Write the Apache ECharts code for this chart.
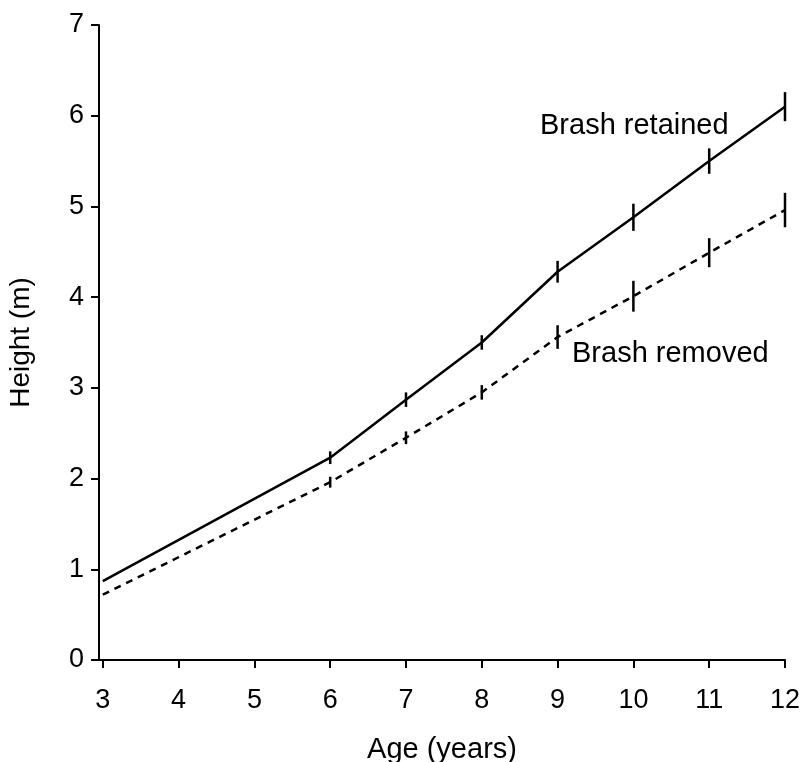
<!DOCTYPE html>
<html>
<head>
<meta charset="utf-8">
<script src="https://cdn.jsdelivr.net/npm/echarts@6/dist/echarts.min.js"></script>
<style>html,body{margin:0;padding:0;background:#fff;}#c{width:802px;height:762px;}</style>
</head>
<body>
<div id="c"></div>
<script>
const ages = [3, 6, 7, 8, 9, 10, 11, 12];
const retained = [0.87, 2.23, 2.87, 3.50, 4.28, 4.88, 5.50, 6.10];
const retainedErr = [0, 0.07, 0.08, 0.08, 0.12, 0.15, 0.14, 0.16];
const removed = [0.72, 1.96, 2.45, 2.95, 3.56, 4.01, 4.49, 4.96];
const removedErr = [0, 0.06, 0.07, 0.08, 0.13, 0.17, 0.16, 0.19];
const xTicks = [3, 4, 5, 6, 7, 8, 9, 10, 11, 12];
const yTicks = [0, 1, 2, 3, 4, 5, 6, 7];

const FONT = '"Liberation Sans", Arial, sans-serif';

function errData(vals, errs) {
  const out = [];
  for (let i = 0; i < ages.length; i++) {
    if (errs[i] > 0) out.push([ages[i], vals[i] - errs[i], vals[i] + errs[i]]);
  }
  return out;
}

function errSeries(vals, errs) {
  return {
    type: 'custom',
    data: errData(vals, errs),
    encode: { x: 0, y: [1, 2] },
    z: 5,
    renderItem: function (params, api) {
      const lo = api.coord([api.value(0), api.value(1)]);
      const hi = api.coord([api.value(0), api.value(2)]);
      return {
        type: 'line',
        shape: { x1: lo[0], y1: lo[1], x2: hi[0], y2: hi[1] },
        style: { stroke: '#000', lineWidth: 2.5 }
      };
    }
  };
}

const chart = echarts.init(document.getElementById('c'), null, { renderer: 'canvas' });
chart.setOption({
  backgroundColor: '#fff',
  animation: false,
  grid: { left: 99, right: 17, top: 25, bottom: 102, containLabel: false, outerBoundsMode: 'none' },
  xAxis: {
    type: 'value',
    min: 2.95,
    max: 12,
    name: 'Age (years)',
    nameLocation: 'middle',
    nameGap: 75,
    nameTextStyle: { fontFamily: FONT, fontSize: 29, color: '#000' },
    axisLine: { lineStyle: { color: '#000', width: 2 } },
    axisTick: { show: true, customValues: xTicks, length: 8, lineStyle: { color: '#000', width: 2 } },
    axisLabel: { customValues: xTicks, fontFamily: FONT, fontSize: 27, color: '#000', margin: 27 },
    splitLine: { show: false }
  },
  yAxis: {
    type: 'value',
    min: 0,
    max: 7,
    interval: 1,
    name: 'Height (m)',
    nameLocation: 'middle',
    nameGap: 64,
    nameTextStyle: { fontFamily: FONT, fontSize: 28, color: '#000' },
    axisLine: { show: true, lineStyle: { color: '#000', width: 2 } },
    axisTick: { show: true, length: 8, lineStyle: { color: '#000', width: 2 } },
    axisLabel: { fontFamily: FONT, fontSize: 27, color: '#000', margin: 15 },
    splitLine: { show: false }
  },
  series: [
    {
      name: 'Brash retained',
      type: 'line',
      data: ages.map((a, i) => [a, retained[i]]),
      showSymbol: false,
      symbol: 'none',
      lineStyle: { color: '#000', width: 2.5, type: 'solid' },
      z: 4
    },
    {
      name: 'Brash removed',
      type: 'line',
      data: ages.map((a, i) => [a, removed[i]]),
      showSymbol: false,
      symbol: 'none',
      lineStyle: { color: '#000', width: 2.5, type: [7, 6] },
      z: 4
    },
    errSeries(retained, retainedErr),
    errSeries(removed, removedErr)
  ],
  graphic: [
    {
      type: 'text', left: 540, top: 111,
      style: { text: 'Brash retained', font: '29px ' + FONT, fill: '#000' }
    },
    {
      type: 'text', left: 572, top: 339,
      style: { text: 'Brash removed', font: '29px ' + FONT, fill: '#000' }
    }
  ]
});
</script>
</body>
</html>
